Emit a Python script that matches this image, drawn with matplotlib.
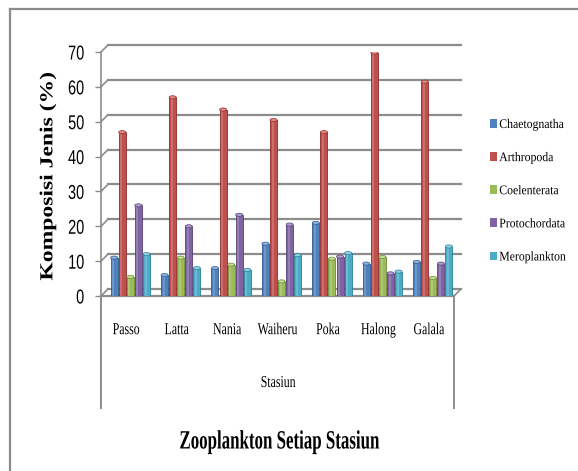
import matplotlib
matplotlib.use("Agg")
import matplotlib.pyplot as plt
from matplotlib.patches import Ellipse, Rectangle
from matplotlib.lines import Line2D
from matplotlib.patheffects import AbstractPathEffect
import matplotlib.transforms as mtransforms
import numpy as np

stations = ["Passo", "Latta", "Nania", "Waiheru", "Poka", "Halong", "Galala"]
groups = ["Chaetognatha", "Arthropoda", "Coelenterata", "Protochordata", "Meroplankton"]

chaetognatha = [11.0, 6.0, 8.0, 15.0, 21.0, 9.3, 9.8]
arthropoda = [47.0, 57.0, 53.5, 50.5, 47.0, 69.8, 61.5]
coelenterata = [5.5, 11.0, 9.0, 4.2, 10.7, 11.2, 5.2]
protochordata = [26.0, 20.0, 23.3, 20.5, 11.3, 6.5, 9.3]
meroplankton = [12.0, 8.0, 7.5, 11.7, 12.3, 7.0, 14.2]

series = [chaetognatha, arthropoda, coelenterata, protochordata, meroplankton]
colors = ["#4F81BD", "#C0504D", "#9BBB59", "#8064A2", "#4BACC6"]
edges = ["#2c5a8f", "#8c2d2a", "#6e8c35", "#56407a", "#2a7f96"]
caps = ["#8fb2dc", "#e08b88", "#c2dc92", "#b09ccc", "#8fd3e4"]

yticks = [0, 10, 20, 30, 40, 50, 60, 70]


class Squeeze(AbstractPathEffect):
    """Draw text with a horizontal compression around an anchor."""

    def __init__(self, sx, anchor="center"):
        super().__init__()
        self.sx = sx
        self.anchor = anchor

    def draw_path(self, renderer, gc, tpath, affine, rgbFace=None):
        bb = tpath.get_extents(affine)
        if self.anchor == "right":
            cx = bb.x1
        elif self.anchor == "left":
            cx = bb.x0
        else:
            cx = 0.5 * (bb.x0 + bb.x1)
        t = affine + mtransforms.Affine2D().translate(-cx, 0).scale(self.sx, 1).translate(cx, 0)
        renderer.draw_path(gc, tpath, t, rgbFace)


W, H = 578, 471
fig = plt.figure(figsize=(W / 100, H / 100), dpi=100)

# plot region in pixel coordinates (front plane)
x0, x1 = 101, 454
y_bot, y_top = 296, 52
ax = fig.add_axes([x0 / W, (H - y_bot) / H, (x1 - x0) / W, (y_bot - y_top) / H])
ax.set_xlim(-0.5, len(stations) - 0.5)
ax.set_ylim(0, 70)
for s in ax.spines.values():
    s.set_visible(False)
ax.set_xticks([])
ax.set_yticks(yticks)
ax.set_yticklabels([str(v) for v in yticks], family="Liberation Sans", fontsize=14.5)
ax.tick_params(axis="y", length=4, width=1, color="#8c8c8c", pad=8)
for lbl in ax.get_yticklabels():
    lbl.set_path_effects([Squeeze(0.72, "right")])
ax.patch.set_visible(False)

grid_col = "#8c8c8c"
dx, dy = 7 / 100, 7 / 100  # depth offset in inches
back = ax.transData + mtransforms.ScaledTranslation(dx, dy, fig.dpi_scale_trans)

# back wall gridlines with slanted joins to the front axis
for v in yticks:
    ax.plot([-0.5, 6.5], [v, v], color=grid_col, lw=1.6, transform=back, clip_on=False, zorder=1)
    xa = ax.transData.transform((-0.5, v))
    xb = back.transform((-0.5, v))
    fig.add_artist(Line2D([xa[0] / W, xb[0] / W], [xa[1] / H, xb[1] / H], color=grid_col, lw=1.2))

# floor edges
fa = ax.transData.transform((6.5, 0))
fb = back.transform((6.5, 0))
fig.add_artist(Line2D([fa[0] / W, fb[0] / W], [fa[1] / H, fb[1] / H], color=grid_col, lw=1.2))
ax.plot([-0.5, 6.5], [0, 0], color=grid_col, lw=1.6, clip_on=False, zorder=1)

# front axis line
ax.plot([-0.5, -0.5], [0, 70], color=grid_col, lw=1.2, clip_on=False, zorder=1)

# lower category box
box_bottom = 408
for xp in (x0, x1):
    fig.add_artist(Line2D([xp / W, xp / W], [(H - y_bot) / H, (H - box_bottom) / H], color=grid_col, lw=1.4))

# outer chart frame
fig.add_artist(Line2D([10 / W, 10 / W], [0, (H - 9) / H], color=grid_col, lw=1.6))
fig.add_artist(Line2D([10 / W, 1], [(H - 9) / H, (H - 9) / H], color=grid_col, lw=1.6))

# cylinder-style bars
x = np.arange(len(stations))
bw = 0.14
step = 0.16
shift = 0.08
cap_h = 0.9
for j, (vals, c, ec, cc) in enumerate(zip(series, colors, edges, caps)):
    xs = x + shift + (j - 2) * step
    ax.bar(xs, vals, width=bw, color=c, edgecolor=ec, linewidth=0.6, zorder=3, label=groups[j])
    ax.bar(xs - bw * 0.12, vals, width=bw * 0.28, color="white", alpha=0.18, linewidth=0, zorder=3.5)
    for xi, v in zip(xs, vals):
        ax.add_patch(Ellipse((xi, v), bw, cap_h, facecolor=cc, edgecolor=ec, lw=0.5, zorder=4))

# category labels
for i, name in enumerate(stations):
    t = ax.text(i, -9.8, name, ha="center", va="center", family="Liberation Serif",
                fontsize=12, clip_on=False)
    t.set_path_effects([Squeeze(0.71)])

t = fig.text(278 / W, 1 - 383 / H, "Stasiun", ha="center", va="center",
             family="Liberation Serif", fontsize=12)
t.set_path_effects([Squeeze(0.71)])

t = fig.text(48 / W, 1 - 176 / H, "Komposisi Jenis (%)", rotation=90, ha="center", va="center",
             family="Liberation Serif", fontweight="bold", fontsize=17)
t.set_path_effects([Squeeze(0.78)])

t = fig.text(279 / W, 1 - 442 / H, "Zooplankton Setiap Stasiun", ha="center", va="center",
             family="Liberation Serif", fontweight="bold", fontsize=19)
t.set_path_effects([Squeeze(0.64)])

handles = [Rectangle((0, 0), 1, 1, facecolor=c) for c in colors]
leg = fig.legend(handles, groups, loc="upper left", bbox_to_anchor=(490 / W, 1 - 119 / H),
                 frameon=False, prop={"family": "Liberation Serif", "size": 9.5},
                 handlelength=0.5, handleheight=0.6, handletextpad=0.2, labelspacing=1.6,
                 borderpad=0, borderaxespad=0)
for txt in leg.get_texts():
    txt.set_path_effects([Squeeze(0.89, "left")])

fig.savefig("out.png", dpi=100)
